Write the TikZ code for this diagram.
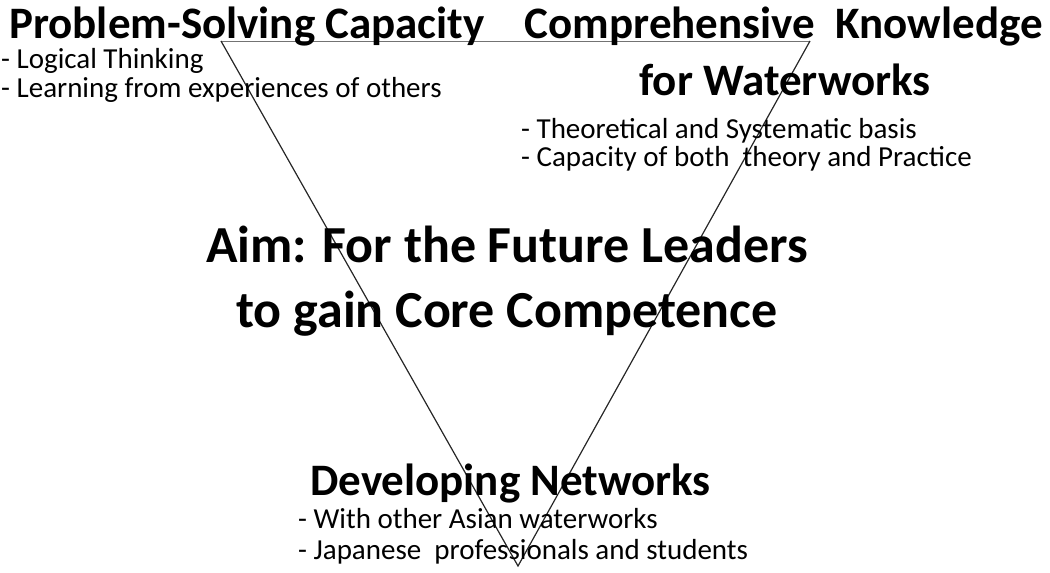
\documentclass[tikz,border=0pt]{standalone}
\usepackage{fontspec}
\setmainfont{Carlito}
\usetikzlibrary{positioning}

\begin{document}
\begin{tikzpicture}[x=1pt,y=-1pt,
  head/.style={font=\fontsize{45}{50}\selectfont\bfseries,inner sep=0pt},
  aim/.style={font=\fontsize{52}{65}\selectfont\bfseries,align=center,inner sep=0pt},
  item/.style={font=\fontsize{29}{30}\selectfont,inner sep=0pt,anchor=base west},
  side/.style={line width=1.2pt,black!85},
  top/.style={line width=0.9pt,black!55},
  ]
  \useasboundingbox (0,0) rectangle (1050,573);

  % inverted triangle
  \coordinate (tl) at (221,41);
  \coordinate (tr) at (810,41);
  \coordinate (bt) at (518,566);
  \draw[top] (tl) -- (tr);
  \draw[side] (tr) -- (bt) -- (tl);

  % upper left
  \node at (9,38) [head,anchor=base west] (ps) {Problem-Solving Capacity};
  \node at (1,68) [item] (ps1) {- Logical Thinking};
  \node at (1,97) [item] (ps2) {- Learning from experiences of others};

  % upper right
  \node at (1043,38) [head,anchor=base east] (ck) {Comprehensive\ \ Knowledge};
  \node at (785,95) [head,anchor=base] (ck0) {for Waterworks};
  \node at (521,138) [item] (ck1) {- Theoretical and Systematic basis};
  \node at (521,166) [item] (ck2) {- Capacity of both\ \ theory and Practice};

  % centre
  \node at (507,327) [aim,anchor=base] (aim) {Aim: For the Future Leaders\\to gain Core Competence};

  % bottom
  \node at (310,495) [head,anchor=base west] (dn) {Developing Networks};
  \node at (298,528) [item] (dn1) {- With other Asian waterworks};
  \node at (298,559) [item] (dn2) {- Japanese\ \ professionals and students};
\end{tikzpicture}
\end{document}
